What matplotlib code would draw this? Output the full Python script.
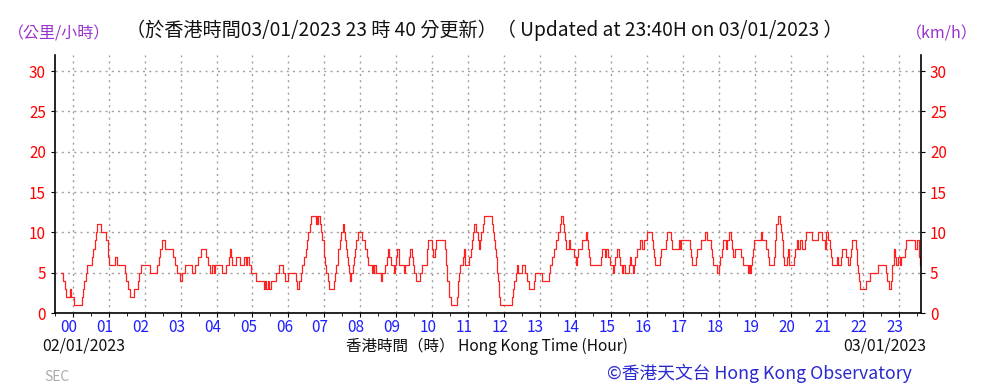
import matplotlib
matplotlib.use("Agg")
import matplotlib.pyplot as plt
import matplotlib.transforms as mtransforms
import numpy as np

plt.rcParams['font.family'] = ['Noto Sans CJK TC', 'DejaVu Sans']

# hours relative to 00:00 on 03/01/2023 where the 10-min mean wind speed changes
change_hours = [
    -0.32, -0.28, -0.23, -0.19, -0.09, -0.05, 0.02, 0.24, 0.27, 0.30, 0.35, 0.39,
    0.52, 0.57, 0.61, 0.64, 0.68, 0.78, 0.92, 0.97, 0.99, 1.01, 1.17, 1.22,
    1.45, 1.48, 1.53, 1.58, 1.70, 1.80, 1.84, 1.89, 2.14, 2.35, 2.39, 2.43,
    2.47, 2.56, 2.78, 2.83, 2.89, 2.99, 3.04, 3.11, 3.31, 3.39, 3.48, 3.57,
    3.72, 3.77, 3.82, 3.88, 3.92, 3.95, 4.14, 4.25, 4.34, 4.37, 4.39, 4.42,
    4.53, 4.65, 4.77, 4.83, 4.85, 4.91, 4.95, 5.11, 5.31, 5.34, 5.37, 5.42,
    5.45, 5.51, 5.66, 5.73, 5.85, 5.91, 6.00, 6.17, 6.22, 6.24, 6.30, 6.34,
    6.39, 6.44, 6.48, 6.52, 6.56, 6.60, 6.64, 6.76, 6.79, 6.81, 6.84, 6.88,
    6.92, 6.95, 6.98, 7.00, 7.02, 7.06, 7.10, 7.14, 7.28, 7.31, 7.34, 7.37,
    7.39, 7.43, 7.47, 7.52, 7.55, 7.59, 7.62, 7.63, 7.65, 7.68, 7.71, 7.74,
    7.80, 7.84, 7.86, 7.89, 7.93, 8.06, 8.13, 8.18, 8.22, 8.32, 8.35, 8.38,
    8.40, 8.43, 8.58, 8.62, 8.69, 8.74, 8.77, 8.81, 8.85, 8.94, 8.97, 9.00,
    9.03, 9.07, 9.21, 9.25, 9.36, 9.39, 9.44, 9.48, 9.51, 9.55, 9.66, 9.71,
    9.85, 9.89, 9.99, 10.04, 10.08, 10.11, 10.36, 10.40, 10.43, 10.48, 10.53, 10.70,
    10.72, 10.76, 10.79, 10.87, 10.89, 10.92, 11.04, 11.08, 11.11, 11.14, 11.18, 11.23,
    11.27, 11.31, 11.35, 11.38, 11.41, 11.44, 11.68, 11.70, 11.73, 11.76, 11.78, 11.80,
    11.82, 11.83, 11.86, 11.88, 11.91, 12.24, 12.27, 12.30, 12.33, 12.36, 12.39, 12.51,
    12.58, 12.65, 12.71, 12.84, 12.88, 13.06, 13.27, 13.30, 13.35, 13.39, 13.46, 13.51,
    13.56, 13.60, 13.65, 13.68, 13.71, 13.74, 13.83, 13.86, 13.97, 14.01, 14.04, 14.08,
    14.17, 14.29, 14.32, 14.36, 14.39, 14.41, 14.70, 14.74, 14.81, 14.84, 14.91, 14.95,
    15.05, 15.08, 15.11, 15.17, 15.21, 15.25, 15.30, 15.33, 15.39, 15.48, 15.51, 15.55,
    15.59, 15.63, 15.67, 15.71, 15.80, 15.85, 15.90, 15.99, 16.13, 16.16, 16.19, 16.22,
    16.36, 16.38, 16.51, 16.56, 16.66, 16.69, 16.89, 16.92, 16.95, 17.18, 17.22, 17.25,
    17.35, 17.38, 17.51, 17.60, 17.67, 17.78, 17.81, 17.84, 17.95, 17.99, 18.02, 18.07,
    18.11, 18.18, 18.21, 18.28, 18.33, 18.36, 18.39, 18.43, 18.61, 18.66, 18.80, 18.83,
    18.85, 18.89, 18.93, 18.95, 18.98, 19.17, 19.19, 19.31, 19.35, 19.38, 19.53, 19.56,
    19.59, 19.63, 19.70, 19.73, 19.76, 19.79, 19.82, 19.90, 19.93, 19.96, 20.09, 20.11,
    20.16, 20.21, 20.26, 20.31, 20.38, 20.41, 20.59, 20.76, 20.88, 20.94, 20.99, 21.04,
    21.08, 21.12, 21.15, 21.28, 21.32, 21.40, 21.43, 21.54, 21.58, 21.64, 21.67, 21.71,
    21.82, 21.84, 21.87, 21.89, 21.92, 22.10, 22.20, 22.43, 22.64, 22.68, 22.73, 22.80,
    22.83, 22.87, 22.90, 22.93, 22.98, 23.03, 23.07, 23.12, 23.17, 23.21, 23.47, 23.51,
    23.57, 23.60, 23.65,
]
speeds = [
    5, 4, 3, 2, 3, 2, 1, 2, 3, 4, 5, 6,
    7, 8, 9, 10, 11, 10, 9, 8, 7, 6, 7, 6,
    5, 4, 3, 2, 3, 4, 5, 6, 5, 6, 7, 8,
    9, 8, 7, 6, 5, 4, 5, 6, 5, 6, 7, 8,
    7, 6, 5, 6, 5, 6, 5, 6, 7, 8, 7, 6,
    7, 6, 7, 6, 7, 6, 5, 4, 3, 4, 3, 4,
    3, 4, 5, 6, 5, 4, 5, 5, 4, 3, 4, 5,
    6, 7, 8, 9, 10, 11, 12, 11, 12, 11, 12, 11,
    10, 9, 8, 7, 6, 5, 4, 3, 4, 5, 6, 7,
    8, 9, 10, 11, 10, 9, 8, 7, 6, 5, 4, 5,
    6, 7, 8, 9, 10, 9, 8, 7, 6, 5, 6, 5,
    6, 5, 4, 5, 6, 7, 8, 7, 6, 5, 6, 7,
    8, 6, 5, 6, 7, 8, 7, 6, 5, 4, 5, 6,
    8, 9, 8, 7, 8, 9, 8, 6, 4, 2, 1, 2,
    4, 5, 6, 7, 8, 6, 7, 8, 9, 10, 11, 10,
    9, 8, 9, 10, 11, 12, 11, 10, 9, 8, 7, 6,
    5, 4, 3, 2, 1, 2, 3, 4, 5, 6, 5, 6,
    5, 4, 3, 4, 5, 4, 5, 6, 7, 8, 9, 10,
    11, 12, 11, 10, 9, 8, 9, 8, 7, 6, 7, 8,
    9, 10, 9, 8, 7, 6, 7, 8, 7, 8, 7, 6,
    5, 6, 7, 8, 7, 6, 5, 6, 5, 6, 7, 6,
    5, 6, 7, 8, 9, 8, 9, 10, 9, 8, 7, 6,
    7, 8, 9, 10, 9, 8, 9, 8, 9, 8, 7, 6,
    7, 8, 9, 10, 9, 8, 7, 6, 5, 6, 7, 8,
    9, 8, 9, 10, 9, 8, 7, 8, 7, 6, 5, 6,
    5, 6, 7, 8, 9, 10, 9, 8, 7, 6, 7, 9,
    11, 12, 11, 10, 9, 7, 6, 7, 8, 6, 7, 8,
    9, 8, 9, 8, 9, 10, 9, 10, 9, 8, 10, 9,
    8, 7, 6, 7, 6, 7, 8, 7, 6, 7, 8, 9,
    8, 6, 5, 4, 3, 4, 5, 6, 5, 4, 3, 4,
    6, 8, 7, 6, 7, 6, 7, 7, 8, 9, 8, 9,
    7, 6, 6,
]

hour_labels = ["%02d" % h for h in range(24)]
y_ticks = [0, 5, 10, 15, 20, 25, 30]

W, H = 983, 388
fig = plt.figure(figsize=(W / 100, H / 100), dpi=100)
ax = fig.add_axes([55 / W, 1 - 313 / H, (921 - 55) / W, (313 - 55) / H])

ax.step(change_hours, speeds, where='post', color='#ff2020', lw=0.9)

ax.set_xlim(-0.323, 23.625)
ax.set_ylim(0, 32)

ax.set_xticks(range(24))
ax.set_xticklabels(hour_labels, color='#1f1fff', fontsize=11)
ax.set_xticks(np.arange(-0.5, 23.6, 1.0), minor=True)
ax.set_yticks(y_ticks)
ax.tick_params(axis='y', colors='black', labelcolor='#ff0000', labelsize=11,
               length=3, left=True, right=True, labelleft=True, labelright=True)
ax.tick_params(axis='x', which='major', length=3, pad=1)
ax.tick_params(axis='x', which='minor', length=2)

shift = mtransforms.ScaledTranslation(-4 / 100, 0, fig.dpi_scale_trans)
for lbl in ax.get_xticklabels():
    lbl.set_transform(lbl.get_transform() + shift)

ax.grid(True, which='major', color='#a0a0a0', linestyle=(0, (1.5, 3)), lw=1.0)
for s in ['left', 'bottom', 'right']:
    ax.spines[s].set_color('black')
    ax.spines[s].set_linewidth(1.2)
ax.spines['top'].set_visible(False)

def ft(x, y, s, **kw):
    fig.text(x / W, 1 - y / H, s, va='center', **kw)

ft(8, 34, "（公里/小時）", color='#9933cc', fontsize=11.5, ha='left')
ft(906, 34, "（km/h）", color='#9933cc', fontsize=11.5, ha='left')
ft(126, 30, "（於香港時間03/01/2023 23 時 40 分更新）（ Updated at 23:40H on 03/01/2023 ）",
   color='#111111', fontsize=13.8, ha='left')
ft(42, 346, "02/01/2023", color='#111111', fontsize=11.5, ha='left')
ft(926, 346, "03/01/2023", color='#111111', fontsize=11.5, ha='right')
ft(487, 346, "香港時間（時） Hong Kong Time (Hour)", color='#111111', fontsize=11.2, ha='center')
ft(44, 377, "SEC", color='#aaaaaa', fontsize=10, ha='left')
ft(912, 373, "©香港天文台 Hong Kong Observatory", color='#2a2ad0', fontsize=12.8, ha='right')

fig.savefig("out.png", dpi=100)
